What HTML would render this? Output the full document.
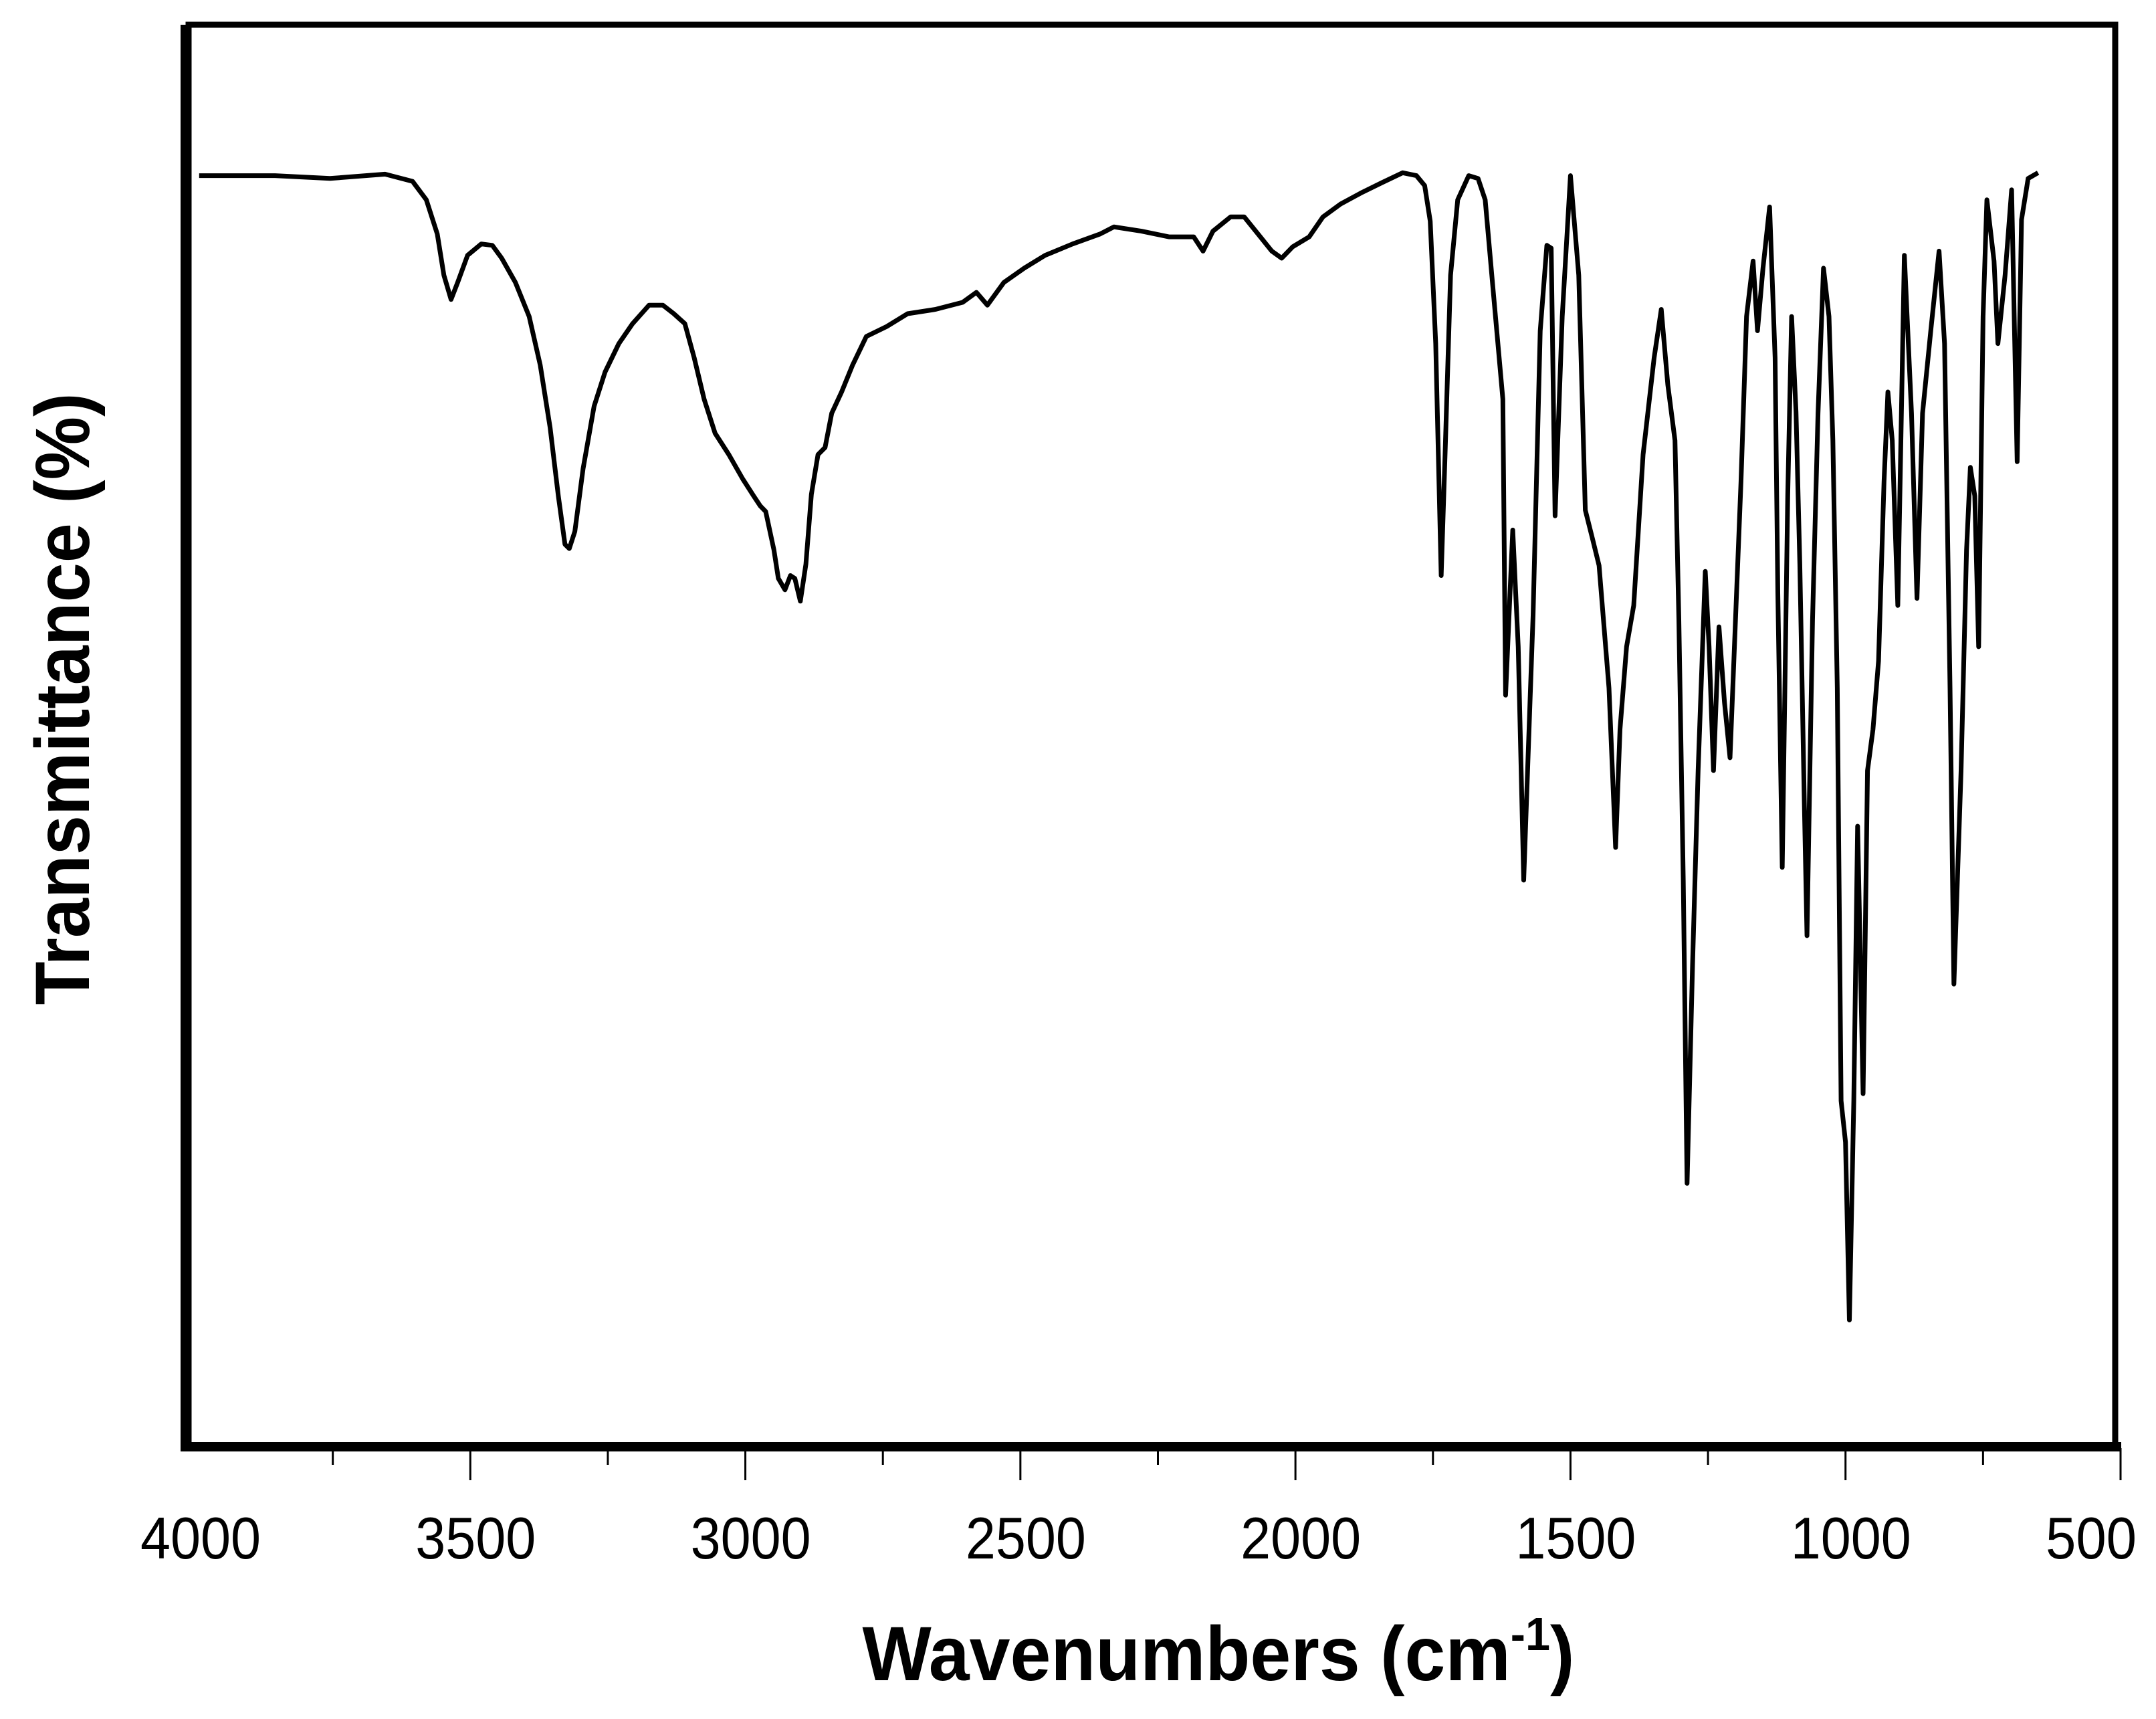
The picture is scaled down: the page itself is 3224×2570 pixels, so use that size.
<!DOCTYPE html>
<html><head><meta charset="utf-8"><style>
html,body{margin:0;padding:0;background:#fff;}
svg{display:block;}
text{font-family:"Liberation Sans",sans-serif;fill:#000;}
</style></head><body>
<svg id="chart" width="3224" height="2570" viewBox="0 0 3224 2570" xmlns="http://www.w3.org/2000/svg">
<rect x="0" y="0" width="3224" height="2570" fill="#fff"/>
<g id="ticks"></g>
<g id="labels"></g>
<path id="spectrum" fill="none" stroke="#000" stroke-width="7" stroke-linejoin="round"/>
<rect x="282" y="37" width="2881" height="2126" fill="none" stroke="#000" stroke-width="9"/>
<rect x="270" y="37" width="16" height="2133" fill="#000"/>
<rect x="270" y="2156" width="2902" height="14" fill="#000"/>
<text x="1822" y="2512" text-anchor="middle" font-size="115" font-weight="bold" textLength="1065" lengthAdjust="spacingAndGlyphs">Wavenumbers (cm<tspan font-size="70" dy="-45">-1</tspan><tspan dy="45">)</tspan></text>
<text transform="translate(133,1045) rotate(-90)" text-anchor="middle" font-size="115" font-weight="bold" textLength="915" lengthAdjust="spacingAndGlyphs">Transmittance (%)</text>
</svg>
<script>
const wavenumbers=[3993,3855,3755,3655,3605,3580,3560,3548,3535,3523,3505,3480,3460,3443,3418,3393,3373,3355,3340,3328,3320,3310,3295,3275,3255,3230,3205,3175,3150,3130,3110,3093,3075,3055,3030,3005,2985,2973,2963,2948,2940,2928,2918,2910,2900,2890,2880,2868,2855,2843,2825,2805,2780,2743,2705,2655,2605,2580,2560,2530,2493,2455,2405,2355,2330,2280,2230,2185,2168,2150,2118,2093,2068,2043,2025,2005,1975,1950,1918,1880,1843,1805,1780,1765,1755,1745,1735,1728,1718,1705,1685,1668,1655,1643,1623,1618,1605,1595,1585,1568,1555,1543,1535,1528,1515,1500,1485,1473,1460,1448,1430,1418,1410,1398,1385,1368,1348,1335,1323,1310,1303,1295,1288,1278,1268,1255,1248,1240,1230,1220,1210,1200,1190,1180,1168,1160,1150,1138,1128,1123,1115,1105,1098,1090,1083,1075,1070,1060,1050,1040,1030,1023,1015,1008,1000,993,985,978,968,960,950,940,930,923,915,905,893,880,870,860,845,830,820,810,803,790,780,773,765,758,750,743,730,723,710,698,688,680,668,650];
const transmittance=[89.4,89.4,89.2,89.5,89.0,87.7,85.3,82.4,80.7,81.9,83.8,84.6,84.5,83.6,81.9,79.5,76.1,71.7,66.9,63.5,63.2,64.4,68.8,73.2,75.6,77.6,79.0,80.3,80.3,79.7,79.0,76.6,73.7,71.3,69.8,68.1,66.9,66.2,65.8,63.1,61.1,60.3,61.3,61.1,59.5,62.1,67.0,69.8,70.3,72.7,74.2,76.1,78.1,78.8,79.7,80.0,80.5,81.2,80.3,81.9,82.9,83.8,84.6,85.3,85.8,85.5,85.1,85.1,84.1,85.5,86.5,86.5,85.3,84.1,83.6,84.4,85.1,86.5,87.4,88.2,88.9,89.6,89.4,88.7,86.2,77.6,61.3,69.8,82.4,87.7,89.4,89.2,87.7,82.4,73.7,52.9,64.5,56.3,39.9,58.5,78.5,84.5,84.3,65.5,79.5,89.4,82.4,65.9,63.9,62.0,53.4,42.2,50.5,56.3,59.2,69.8,76.6,80.0,74.7,70.8,58.2,39.9,18.6,34.0,47.6,61.6,56.3,47.6,57.7,52.4,48.5,58.2,67.9,79.5,83.4,78.5,82.9,87.2,76.6,60.1,40.8,66.9,79.5,72.8,62.1,45.6,36.0,58.2,72.7,82.9,79.5,70.8,53.4,24.4,21.5,9.0,24.4,43.7,24.9,47.6,50.5,55.3,67.9,74.2,70.8,59.2,83.8,72.7,59.7,72.7,78.5,84.1,77.6,53.4,32.6,47.6,63.1,68.9,66.9,56.3,79.5,87.7,83.4,77.6,82.4,88.4,69.3,86.3,89.2,89.6];
const tickLabels=["4000","3500","3000","2500","2000","1500","1000","500"];
const tickValues=[4000,3500,3000,2500,2000,1500,1000,500];
const minorTicks=[3750,3250,2750,2250,1750,1250,750];

const X0=292,X1=3171,WMAX=4000,WMIN=500,Y0=2165,Y1=37;
function xs(w){return X0+(WMAX-w)*(X1-X0)/(WMAX-WMIN);}
function ys(t){return Y0-t*(Y0-Y1)/100;}
const NS="http://www.w3.org/2000/svg";
let d="";
for(let i=0;i<wavenumbers.length;i++){d+=(i?"L":"M")+xs(wavenumbers[i]).toFixed(1)+","+ys(transmittance[i]).toFixed(1);}
document.getElementById("spectrum").setAttribute("d",d);
const tg=document.getElementById("ticks"),lg=document.getElementById("labels");
tickValues.forEach((v,i)=>{
  if(v!==4000){
    const l=document.createElementNS(NS,"line");
    l.setAttribute("x1",xs(v));l.setAttribute("x2",xs(v));l.setAttribute("y1",2165);l.setAttribute("y2",2213);
    l.setAttribute("stroke","#000");l.setAttribute("stroke-width","3");
    
    
    tg.appendChild(l);
  }
  const t=document.createElementNS(NS,"text");
  const last=(i===tickValues.length-1);
  t.setAttribute("x",last?3195:xs(v)+8);t.setAttribute("y",2330);t.setAttribute("text-anchor",last?"end":"middle");
  t.setAttribute("font-size","88");
  t.setAttribute("textLength",last?"136":"180");t.setAttribute("lengthAdjust","spacingAndGlyphs");
  t.textContent=tickLabels[i];
  
  
  lg.appendChild(t);
});
minorTicks.forEach(v=>{
  const l=document.createElementNS(NS,"line");
  l.setAttribute("x1",xs(v));l.setAttribute("x2",xs(v));l.setAttribute("y1",2165);l.setAttribute("y2",2190);
  l.setAttribute("stroke","#000");l.setAttribute("stroke-width","3");
  
  
  tg.appendChild(l);
});
</script>
</body></html>
